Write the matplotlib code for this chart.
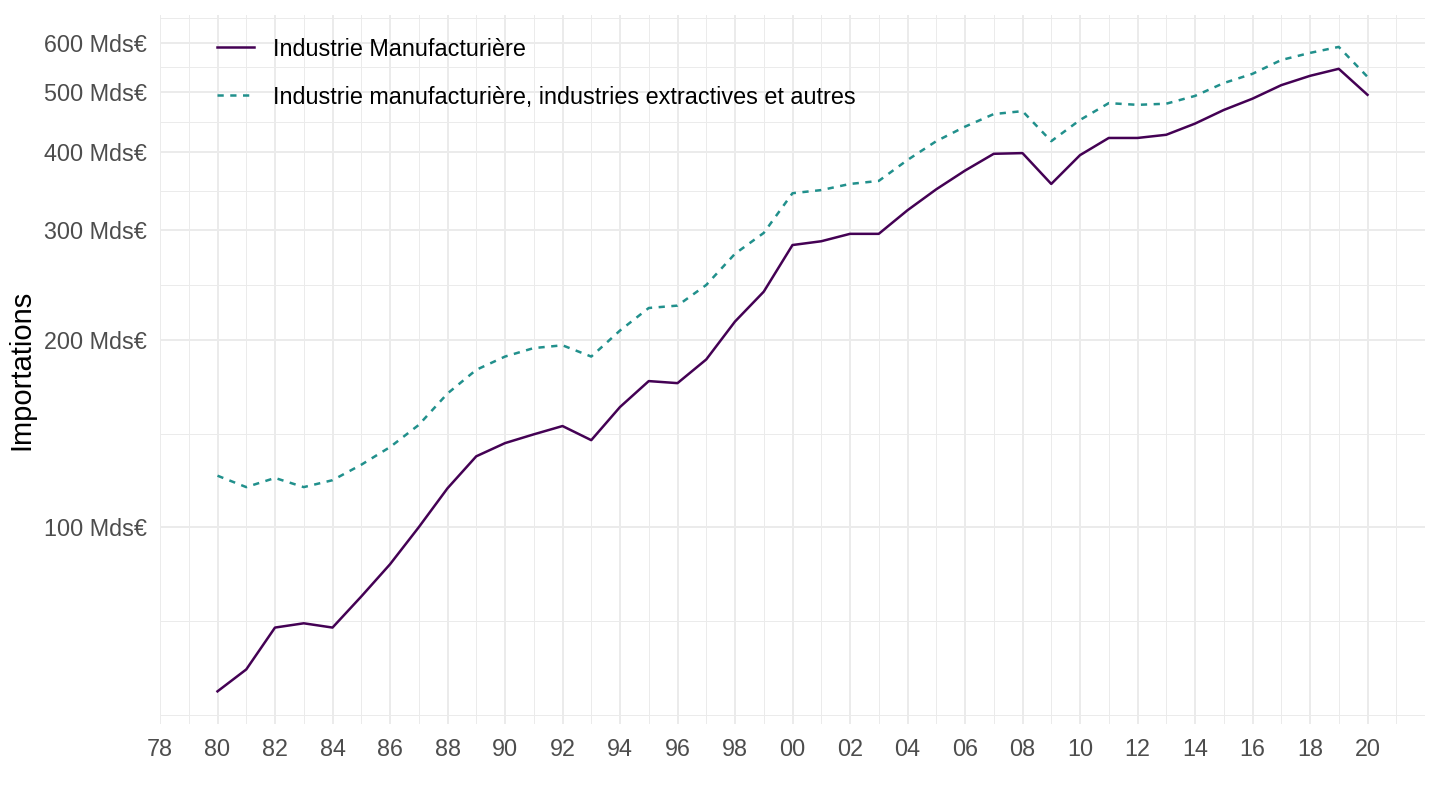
import numpy as np
import matplotlib.pyplot as plt
from matplotlib.ticker import FixedLocator, NullFormatter

plt.rcParams['font.family'] = ['Liberation Sans', 'DejaVu Sans']

years = list(range(1980, 2021))

# Importations, Mds€
manuf = [54.5, 59.1, 69.0, 70.1, 69.0, 77.4, 87.2, 100.0, 115.5, 130.0,
         136.5, 141.0, 145.4, 138.0, 156.0, 171.7, 170.4, 186.0, 214.0, 239.0,
         284.0, 288.0, 296.0, 296.0, 323.0, 349.0, 374.0, 398.0, 399.0, 356.0,
         396.0, 422.0, 422.0, 427.0, 445.0, 468.0, 488.0, 513.0, 531.0, 545.0,
         495.0]
manuf_extr = [121.0, 116.0, 120.0, 116.0, 119.0, 126.0, 134.5, 146.0, 164.0, 179.0,
              188.0, 194.0, 196.0, 188.0, 207.0, 225.0, 227.0, 245.0, 275.0, 297.0,
              344.0, 348.0, 356.0, 360.0, 389.0, 417.0, 440.0, 461.0, 466.0, 417.0,
              451.0, 480.0, 477.0, 479.0, 493.0, 517.0, 535.0, 563.0, 578.0, 591.0,
              529.0]

labels = ["Industrie Manufacturière",
          "Industrie manufacturière, industries extractives et autres"]
colors = ["#440154", "#21908C"]

y_major = [100, 200, 300, 400, 500, 600]
y_minor = [50, 70.7, 141.4, 244.9, 346.4, 447.2, 547.7, 657.3]
x_major = list(range(1978, 2021, 2))
x_minor = list(range(1979, 2023, 2))

fig = plt.figure(figsize=(14.4, 8.1), dpi=100)
ax = fig.add_axes([160 / 1440, (810 - 724) / 810, 1265 / 1440, 709 / 810])

ax.plot(years, manuf, color=colors[0], lw=1.8, label=labels[0])
ax.plot(years, manuf_extr, color=colors[1], lw=1.8, linestyle=(0, (2.5, 2.6)),
        label=labels[1])

ax.set_yscale('log')
ax.set_ylim(48.3, 665)
ax.set_xlim(1978, 2022)

ax.yaxis.set_major_locator(FixedLocator(y_major))
ax.yaxis.set_minor_locator(FixedLocator(y_minor))
ax.set_yticklabels(["{} Mds€".format(v) for v in y_major])
ax.yaxis.set_minor_formatter(NullFormatter())
ax.xaxis.set_major_locator(FixedLocator(x_major))
ax.xaxis.set_minor_locator(FixedLocator(x_minor))
ax.set_xticklabels(["{:02d}".format(y % 100) for y in x_major])

ax.grid(which='major', color='#EBEBEB', lw=1.4)
ax.grid(which='minor', color='#EBEBEB', lw=0.7)
ax.set_axisbelow(True)
for s in ax.spines.values():
    s.set_visible(False)
ax.tick_params(which='both', length=0, labelsize=16.8, labelcolor='#4D4D4D')
ax.tick_params(axis='y', pad=9.5)
ax.tick_params(axis='x', pad=10)

ax.set_ylabel("Importations", fontsize=21, labelpad=6)

leg = ax.legend(loc='upper left', bbox_to_anchor=(0.0285, 0.9977), frameon=False,
                fontsize=16.8, handlelength=1.6, handletextpad=0.8,
                labelspacing=1.07)

fig.savefig("out.png", dpi=100)
